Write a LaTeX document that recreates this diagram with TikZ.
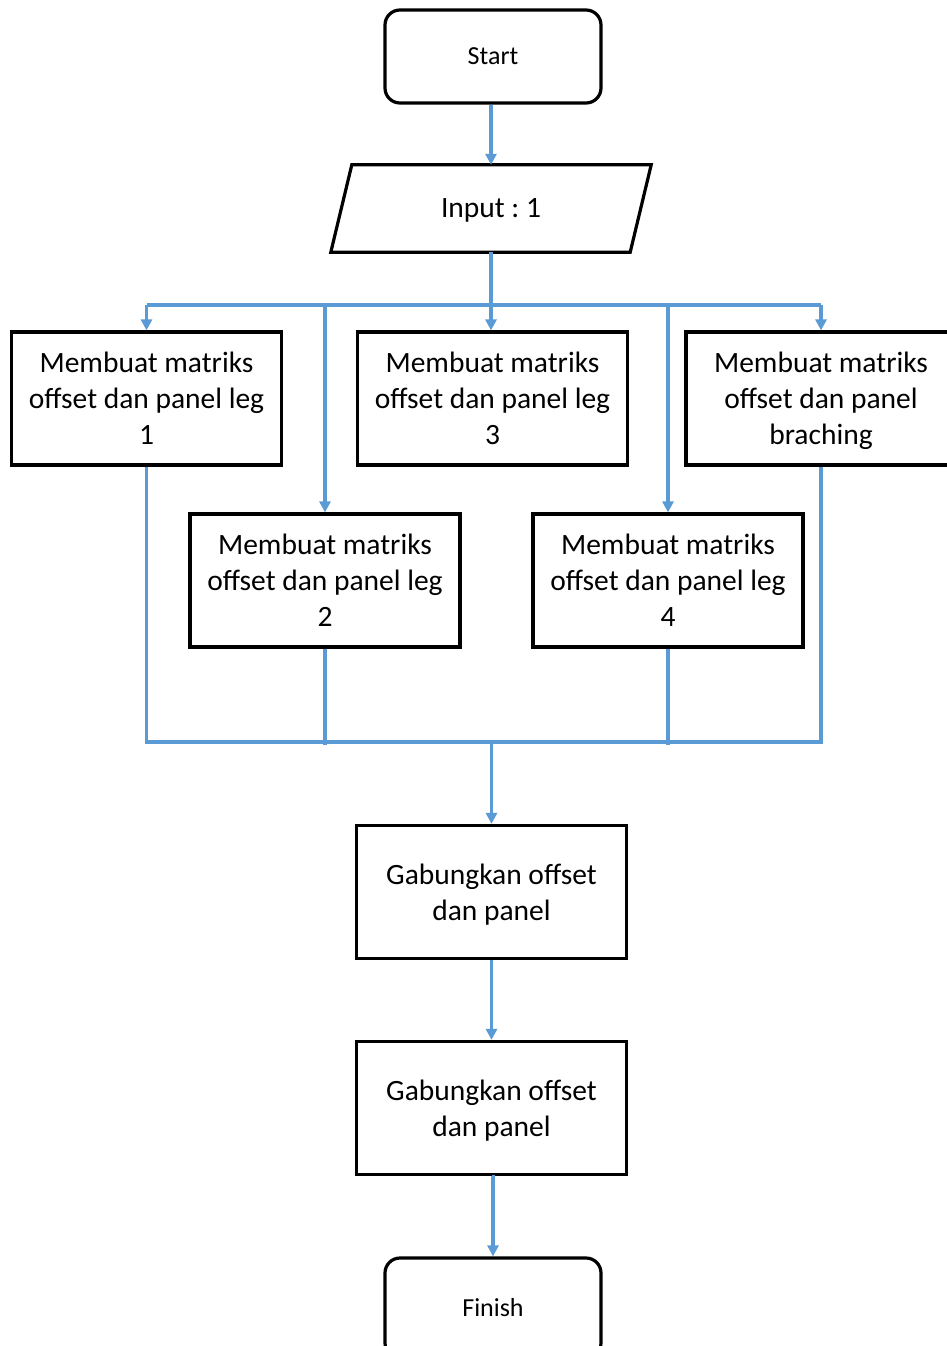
\documentclass[tikz,border=0pt]{standalone}
\usepackage{fontspec}
\setmainfont{Carlito}
\usetikzlibrary{arrows.meta}
\definecolor{flowblue}{RGB}{91,155,213}
% a line whose descenders do not count toward the box depth
\newcommand\nodp[1]{\raisebox{0pt}[\height][0pt]{#1}}
\frenchspacing
\begin{document}
\begin{tikzpicture}[x=1pt,y=-1pt,
  proc/.style={draw=black,line width=3.2pt,minimum width=270pt,minimum height=133pt,
    align=center,inner sep=0pt,font=\fontsize{29.5}{36}\selectfont},
  term/.style={draw=black,line width=3.2pt,rounded corners=15pt,minimum width=216pt,
    minimum height=93pt,inner sep=0pt,font=\fontsize{26}{31}\selectfont},
  link/.style={draw=flowblue,line width=3.2pt},
  arr/.style={link,-{Triangle[width=11pt,length=11pt]}}]
\useasboundingbox (0,0) rectangle (947,1346);
\clip (0,0) rectangle (947,1346);

% terminals
\node[term] (start) at (493,56.5) {Start};
\node[term,minimum height=100pt] (finish) at (493,1308) {Finish};

% input parallelogram: invisible node for the label, outline drawn around it
\node[minimum width=299pt,minimum height=87pt,inner sep=0pt,
  font=\fontsize{29.5}{36}\selectfont] (input) at (491,208.5) {\nodp{Input : 1}};
\draw[line width=3.2pt,line join=miter]
  ([xshift=10.5pt]input.north west) -- ([xshift=10.5pt]input.north east)
  -- ([xshift=-10.5pt]input.south east) -- ([xshift=-10.5pt]input.south west) -- cycle;

% process boxes
\node[proc] (b1) at (146.5,398.5) {Membuat matriks\\offset dan panel leg\\1};
\node[proc] (b3) at (492.5,398.5) {Membuat matriks\\offset dan panel leg\\3};
\node[proc] (b5) at (821,398.5) {Membuat matriks\\offset dan panel\\\nodp{braching}};
\node[proc] (b2) at (325,580.5) {Membuat matriks\\offset dan panel leg\\2};
\node[proc] (b4) at (668,580.5) {Membuat matriks\\offset dan panel leg\\4};
\node[proc] (g1) at (491.5,892) {Gabungkan offset\\\nodp{dan panel}};
\node[proc] (g2) at (491.5,1108) {Gabungkan offset\\\nodp{dan panel}};

% bus coordinates
\coordinate (busT) at (491,305);
\coordinate (busB) at (491.5,742);

% top distribution
\draw[arr] (input.north |- start.south) -- (input.north);
\draw[link] (input.south) -- (busT);
\draw[link] (b1.north |- busT) -- (b5.north |- busT);
\draw[arr] (busT) -- (busT |- b3.north);
\draw[arr] (b1.north |- busT) -- (b1.north);
\draw[arr] (b5.north |- busT) -- (b5.north);
\draw[arr] (b2.north |- busT) -- (b2.north);
\draw[arr] (b4.north |- busT) -- (b4.north);

% bottom collection
\draw[link] (b1.south) -- (b1.south |- busB) -- (b5.south |- busB) -- (b5.south);
\draw[link] (b2.south) -- ([yshift=-3pt]b2.south |- busB);
\draw[link] (b4.south) -- ([yshift=-3pt]b4.south |- busB);
\draw[arr] (busB) -- (g1.north);

% tail
\draw[arr] (g1) -- (g2);
\draw[arr] (g2.south) -- (g2.south -| finish.north) -- (finish.north);
\end{tikzpicture}
\end{document}
